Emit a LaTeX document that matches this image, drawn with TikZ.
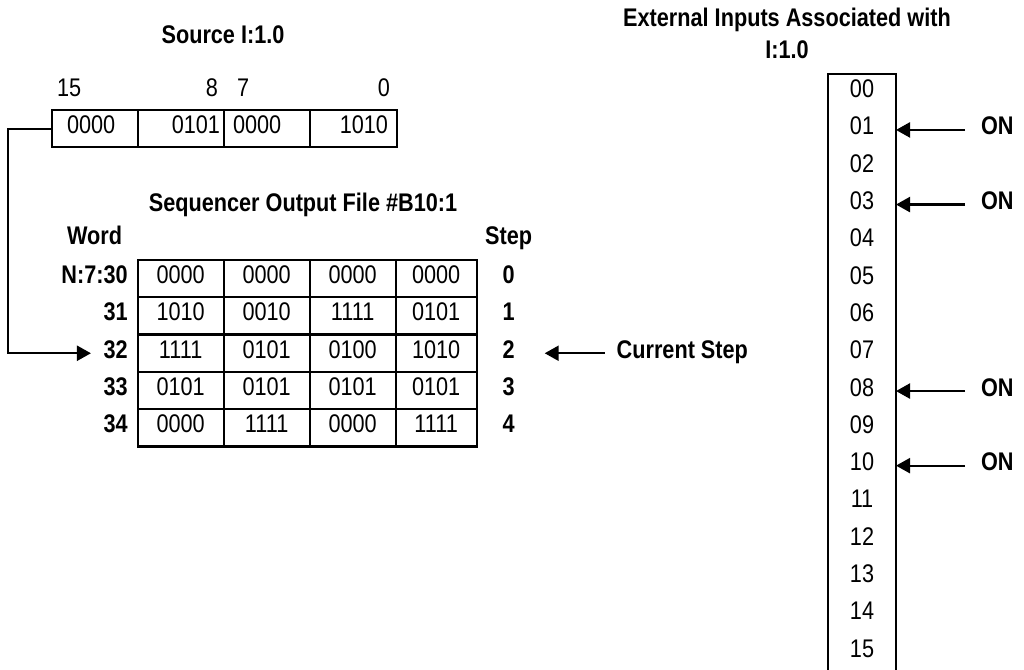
\documentclass[tikz,border=0pt]{standalone}
\usepackage{fontspec}
\setmainfont{Liberation Sans}[FakeStretch=0.85]
\usepackage{tikz}
\usetikzlibrary{arrows.meta, positioning}

\tikzset{
    txt/.style={font=\fontsize{25.5pt}{30pt}\selectfont, inner sep=0pt, outer sep=0pt, text height=18.3pt, text depth=8.3pt},
    btxt/.style={txt, font=\fontsize{25.5pt}{30pt}\selectfont\bfseries},
    cell/.style={txt, draw, line width=2.3pt, minimum height=37.3pt, minimum width=86pt},
    lastcell/.style={cell, minimum width=81pt},
    incell/.style={txt, minimum width=68pt, minimum height=37.3pt},
    arr/.style={->, line width=2.3pt}
}

\begin{document}
\begin{tikzpicture}[x=1pt, y=-1pt, >={Triangle[length=14pt, width=15pt]}]
    \useasboundingbox (0,0) rectangle (1024,669);

    % Từ nguồn I:1.0
    \node[btxt] (srctitle) at (223,39) {Source I:1.0};
    \node[cell, inner xsep=15pt, text width=56pt, align=left] (src1) at (95,128.65) {0000};
    \node[cell, inner xsep=4pt, text width=78pt, align=right, right=0pt of src1] (src2) {0101};
    \node[cell, inner xsep=9pt, text width=68pt, align=left, right=0pt of src2] (src3) {0000};
    \node[cell, inner xsep=9pt, text width=69pt, align=right, right=0pt of src3] (src4) {1010};
    \node[txt, above right=5pt and 5pt of src1.north west] (bit15) {15};
    \node[txt, above left=5pt and 6pt of src2.north east] (bit8) {8};
    \node[txt, above right=5pt and 13pt of src3.north west] (bit7) {7};
    \node[txt, above left=5pt and 7pt of src4.north east] (bit0) {0};

    % Tệp đầu ra của bộ tuần tự
    \node[btxt] (seqtitle) at (303,206) {Sequencer Output File \#B10:1};
    \node[cell] (c00) at (180.65,278.65) {0000};
    \node[cell, right=0pt of c00] (c01) {0000};
    \node[cell, right=0pt of c01] (c02) {0000};
    \node[lastcell, right=0pt of c02] (c03) {0000};
    \node[cell, below=0pt of c00] (c10) {1010};
    \node[cell, right=0pt of c10] (c11) {0010};
    \node[cell, right=0pt of c11] (c12) {1111};
    \node[lastcell, right=0pt of c12] (c13) {0101};
    \node[cell, below=0pt of c10] (c20) {1111};
    \node[cell, right=0pt of c20] (c21) {0101};
    \node[cell, right=0pt of c21] (c22) {0100};
    \node[lastcell, right=0pt of c22] (c23) {1010};
    \node[cell, below=0pt of c20] (c30) {0101};
    \node[cell, right=0pt of c30] (c31) {0101};
    \node[cell, right=0pt of c31] (c32) {0101};
    \node[lastcell, right=0pt of c32] (c33) {0101};
    \node[cell, below=0pt of c30] (c40) {0000};
    \node[cell, right=0pt of c40] (c41) {1111};
    \node[cell, right=0pt of c41] (c42) {0000};
    \node[lastcell, right=0pt of c42] (c43) {1111};

    % Cột Word và cột Step
    \node[btxt, left=10pt of c00] (w30) {N:7:30};
    \node[btxt, left=10pt of c10] (w31) {31};
    \node[btxt, left=10pt of c20] (w32) {32};
    \node[btxt, left=10pt of c30] (w33) {33};
    \node[btxt, left=10pt of c40] (w34) {34};
    \node[btxt, above=13pt of w30] (word) {Word};
    \node[btxt, right=26pt of c03] (s0) {0};
    \node[btxt, right=26pt of c13] (s1) {1};
    \node[btxt, right=26pt of c23] (s2) {2};
    \node[btxt, right=26pt of c33] (s3) {3};
    \node[btxt, right=26pt of c43] (s4) {4};
    \node[btxt, above=13pt of s0] (step) {Step};

    % Mũi tên
    \draw[arr, shorten >=12.6pt] (src1.west) -- ++(-43.7,0) |- (w32.west);
    \node[btxt, right=102pt of s2] (cur) {Current Step};
    \draw[arr, shorten <=12pt, shorten >=30pt] (cur.west) -- (s2.east);

    % Các đầu vào bên ngoài I:1.0
    \node[btxt] (exttitle) at (787,22) {External Inputs Associated with};
    \node[btxt, below=5pt of exttitle] (exttitle2) {I:1.0};
    \node[incell] (in00) at (862,92.65) {00};
    \node[incell, below=0pt of in00] (in01) {01};
    \node[incell, below=0pt of in01] (in02) {02};
    \node[incell, below=0pt of in02] (in03) {03};
    \node[incell, below=0pt of in03] (in04) {04};
    \node[incell, below=0pt of in04] (in05) {05};
    \node[incell, below=0pt of in05] (in06) {06};
    \node[incell, below=0pt of in06] (in07) {07};
    \node[incell, below=0pt of in07] (in08) {08};
    \node[incell, below=0pt of in08] (in09) {09};
    \node[incell, below=0pt of in09] (in10) {10};
    \node[incell, below=0pt of in10] (in11) {11};
    \node[incell, below=0pt of in11] (in12) {12};
    \node[incell, below=0pt of in12] (in13) {13};
    \node[incell, below=0pt of in13] (in14) {14};
    \node[incell, below=0pt of in14] (in15) {15};
    \draw[line width=2.3pt] (in00.north west) rectangle (in15.south east);

    \node[btxt, right=85pt of in01] (on01) {ON};
    \node[btxt, right=85pt of in03] (on03) {ON};
    \node[btxt, right=85pt of in08] (on08) {ON};
    \node[btxt, right=85pt of in10] (on10) {ON};
    \draw[arr, shorten <=16pt] (on01.west) -- (in01.east);
    \draw[arr, shorten <=16pt] (on03.west) -- (in03.east);
    \draw[arr, shorten <=16pt] (on08.west) -- (in08.east);
    \draw[arr, shorten <=16pt] (on10.west) -- (in10.east);
\end{tikzpicture}
\end{document}
